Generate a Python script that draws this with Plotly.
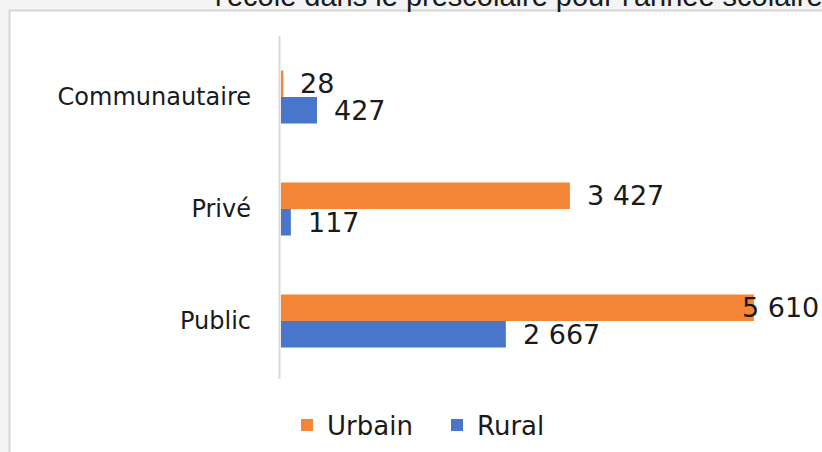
import plotly.graph_objects as go

# ---- data ----
categories = ["Communautaire", "Privé", "Public"]
urbain = [28, 3427, 5610]
rural = [427, 117, 2667]
series_names = ["Urbain", "Rural"]
title_text = "l'école dans le préscolaire pour l'année scolaire"

# ---- geometry / style ----
W, H = 822, 452
L, R, T, B = 281, 0, 41, 75
PW = W - L - R
PH = H - T - B
PX_PER_UNIT = 0.0843
XMAX = PW / PX_PER_UNIT
BARGAP = 0.527

ORANGE = "#F48638"
BLUE = "#4776CB"
TXT = "#1a1a1a"
FONT = "DejaVu Sans"
PAGE_BG = "#f4f4f4"


def fmt(v):
    return f"{v:,}".replace(",", " ")


def pxx(px):
    return (px - L) / PW


def pxy(py):
    return (H - B - py) / PH


fig = go.Figure()
fig.add_trace(go.Bar(y=categories, x=urbain, orientation="h", name=series_names[0],
                     marker=dict(color=ORANGE, line=dict(width=0))))
fig.add_trace(go.Bar(y=categories, x=rural, orientation="h", name=series_names[1],
                     marker=dict(color=BLUE, line=dict(width=0))))

annotations = []
bar_w = (1 - BARGAP) / 2
LABEL_SIZE = 27
for j, vals in enumerate([urbain, rural]):
    for i, v in enumerate(vals):
        txt = fmt(v)
        ypos = i + (j - 0.5) * bar_w
        end_px = L + v * PX_PER_UNIT + 15 + len(txt) * 0.62 * LABEL_SIZE
        if end_px > W - 2:
            annotations.append(dict(x=1, xref="paper", xanchor="right", xshift=-1,
                                    y=ypos, yref="y", yanchor="middle", text=txt,
                                    showarrow=False, font=dict(family=FONT, size=LABEL_SIZE, color=TXT)))
        else:
            annotations.append(dict(x=v, xref="x", xanchor="left", xshift=15,
                                    y=ypos, yref="y", yanchor="middle", text=txt,
                                    showarrow=False, font=dict(family=FONT, size=LABEL_SIZE, color=TXT)))

# cut-off title of the page above the chart
annotations.append(dict(x=pxx(213), xref="paper", xanchor="left",
                        y=pxy(14), yref="paper", yanchor="bottom", text=title_text,
                        showarrow=False, font=dict(family="Liberation Sans", size=29, color=TXT)))

shapes = [
    dict(type="rect", xref="paper", yref="paper", layer="below",
         x0=pxx(9.5), x1=pxx(W + 20), y0=pxy(H + 20), y1=pxy(10.5),
         fillcolor="white", line=dict(color="#d6d6d6", width=2)),
    dict(type="line", xref="paper", yref="paper", layer="below",
         x0=pxx(279.5), x1=pxx(279.5), y0=pxy(379), y1=pxy(36),
         line=dict(color="#d9d9d9", width=2)),
]

fig.update_layout(
    width=W, height=H,
    margin=dict(l=L, r=R, t=T, b=B, pad=0),
    paper_bgcolor=PAGE_BG,
    plot_bgcolor="rgba(0,0,0,0)",
    barmode="group", bargap=BARGAP, bargroupgap=0,
    showlegend=True,
    legend=dict(orientation="h", x=pxx(287), xanchor="left", y=pxy(425), yanchor="middle",
                font=dict(family=FONT, size=26, color=TXT), bgcolor="rgba(0,0,0,0)",
                traceorder="normal", entrywidth=105),
    annotations=annotations,
    shapes=shapes,
    xaxis=dict(range=[0, XMAX], visible=False, fixedrange=True),
    yaxis=dict(type="category", categoryorder="array", categoryarray=categories,
               range=[2.5, -0.5], showline=False, fixedrange=True,
               ticks="", showgrid=False, zeroline=False, ticklabelstandoff=29,
               tickfont=dict(family=FONT, size=24, color=TXT)),
)

post = ("document.documentElement.style.margin='0';document.body.style.margin='0';"
        "document.body.style.padding='0';document.body.style.overflow='hidden';"
        "document.documentElement.style.overflow='hidden';"
        "document.body.style.background='" + PAGE_BG + "';")
fig.write_html("out.html", post_script=post, config={"displayModeBar": False})
